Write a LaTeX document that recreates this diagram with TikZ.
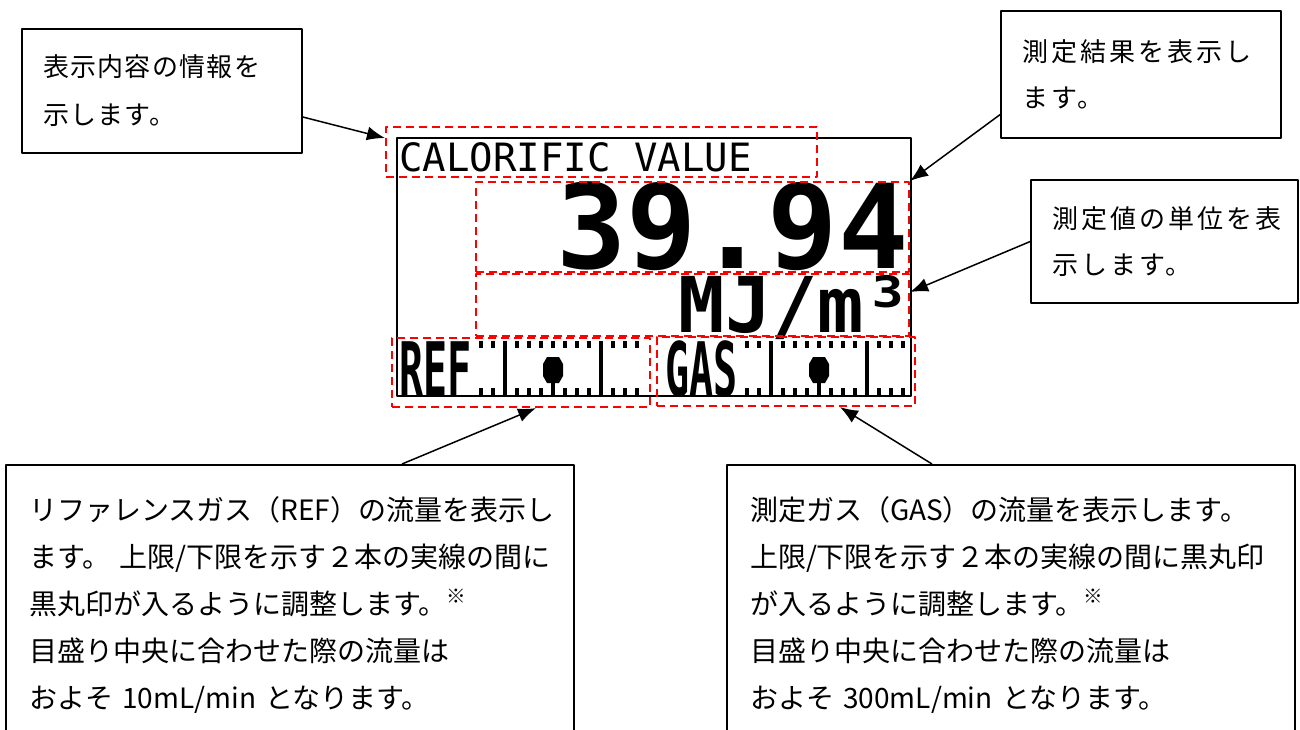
\documentclass[tikz,border=0pt]{standalone}
\usepackage{fontspec}
\usepackage{graphicx}
\usetikzlibrary{arrows.meta}
\setmainfont{Noto Sans CJK JP}
\newfontfamily\jpnarrow[LetterSpace=5]{Noto Sans CJK JP}
\newfontfamily\jpwide[LetterSpace=12]{Noto Sans CJK JP}
\newfontfamily\lcdfont{DejaVu Sans Mono}

\begin{document}
\begin{tikzpicture}[x=0.5pt, y=-0.5pt, line join=round, >={Latex[length=9pt,width=7pt]},
    note/.style={draw, line width=0.8pt, inner xsep=10.5pt, inner ysep=0pt, align=left},
    topnote/.style={note, font={\jpwide\fontsize{13}{23}\selectfont}},
    flownote/.style={note, anchor=north, minimum width=284pt, minimum height=140pt,
      text width=261pt, inner xsep=11.5pt, font={\fontsize{14}{23.5}\selectfont}},
    redbox/.style={draw=red, line width=1.1pt, dash pattern=on 4pt off 2.5pt, inner sep=0pt},
    pointer/.style={->, line width=0.75pt},
    lcdtext/.style={inner sep=0pt, text depth=0pt, font=\lcdfont}]
  \useasboundingbox (0,0) rectangle (1300,729);
  \clip (0,0) rectangle (1300,729);

  % LCD panel
  \draw[line width=0.7pt] (397,138) rectangle (911,396);
  \node[lcdtext, anchor=base west, font={\lcdfont\fontsize{19.5}{20}\selectfont}] (caltext) at (399,171) {CALORIFIC VALUE};
  \node[lcdtext, anchor=base east, font={\lcdfont\bfseries\fontsize{58.5}{60}\selectfont}] (valtext) at (909,268) {39.94};
  \node[lcdtext, anchor=base east, font={\lcdfont\bfseries\fontsize{38.5}{40}\selectfont}] (unittext) at (911,332) {MJ/m³};

  % flow bars
  \foreach \sx/\gas in {0/REF,266/GAS}{
    \begin{scope}[shift={(\sx,0)}]
      \node[lcdtext, anchor=base west, font={\lcdfont\bfseries\fontsize{20}{20}\selectfont}] (bar\gas) at (399,396) {\scalebox{1}[1.88]{\gas}};
      \foreach \k in {0,1,3,4,5,6,7,8,9,11,12,13}{
        \fill (479+12*\k,341) rectangle ++(4,7);
        \fill (479+12*\k,388) rectangle ++(4,8);
      }
      \fill (503,341) rectangle ++(4,55);
      \fill (599,341) rectangle ++(4,55);
      \fill (547,357) -- (559,357) -- (563,364) -- (563,376) -- (559,383) -- (547,383) -- (543,376) -- (543,364) -- cycle;
      \fill (551,383) rectangle (555,396);
    \end{scope}
  }

  % marked areas
  \node[redbox, minimum width=215.5pt, minimum height=25pt] (calbox) at (601.5,152) {};
  \node[redbox, minimum width=216.5pt, minimum height=45pt] (valbox) at (692.5,227) {};
  \node[redbox, minimum width=216.5pt, minimum height=31pt] (unitbox) at (692.5,305) {};
  \node[redbox, minimum width=129pt, minimum height=34.5pt] (refbox) at (521,372.5) {};
  \node[redbox, minimum width=129pt, minimum height=34.5pt] (gasbox) at (786,371.5) {};

  % callouts
  \node[note, font={\jpnarrow\fontsize{13}{24}\selectfont}, minimum width=140pt, minimum height=62pt, text width=119pt] (infonote) at (162,91) {表示内容の情報を\\示します。};
  \node[topnote, minimum width=140pt, minimum height=63.5pt, text width=119pt] (resultnote) at (1141,74.5) {測定結果を表示し\\ます。};
  \node[topnote, minimum width=133.5pt, minimum height=61.5pt, text width=112.5pt] (unitnote) at (1164.5,241.5) {測定値の単位を表\\示します。};
  \node[flownote] (refnote) at (290,464) {リファレンスガス（REF）の流量を表示し\\ます。 上限/下限を示す２本の実線の間に\\黒丸印が入るように調整します。\textsuperscript{※}\\目盛り中央に合わせた際の流量は\\およそ 10mL/min となります。};
  \node[flownote] (gasnote) at (1011,464) {測定ガス（GAS）の流量を表示します。\\上限/下限を示す２本の実線の間に黒丸印\\が入るように調整します。\textsuperscript{※}\\目盛り中央に合わせた際の流量は\\およそ 300mL/min となります。};

  \draw[pointer] ([yshift=-13pt]infonote.east) -- ([yshift=7pt]calbox.west);
  \draw[pointer] ([yshift=-20pt]resultnote.west) -- (valbox.north east);
  \draw[pointer] (unitnote.west) -- ([yshift=6.5pt]unitbox.east);
  \draw[pointer] ([xshift=56pt]refnote.north) -- ([xshift=7.5pt]refbox.south);
  \draw[pointer] ([xshift=-39.5pt]gasnote.north) -- ([xshift=27pt]gasbox.south);
\end{tikzpicture}
\end{document}
